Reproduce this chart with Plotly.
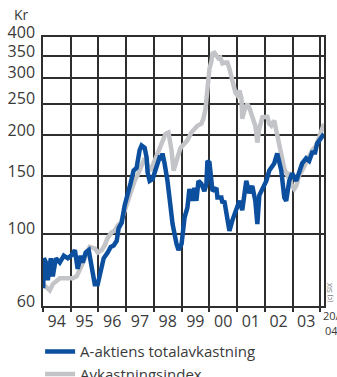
import plotly.graph_objects as go

# A-aktiens totalavkastning (kr, logarithmic scale)
aktie_dates = [
    "1994-01-03", "1994-01-14", "1994-02-09", "1994-03-05", "1994-04-14", "1994-05-10",
    "1994-06-19", "1994-08-10", "1994-10-02", "1994-11-24", "1995-01-16", "1995-02-25",
    "1995-04-03", "1995-05-12", "1995-06-08", "1995-07-17", "1995-08-26", "1995-10-05",
    "1995-11-14", "1995-12-23", "1996-02-01", "1996-03-10", "1996-05-02", "1996-06-11",
    "1996-07-20", "1996-08-29", "1996-09-24", "1996-11-03", "1996-12-12", "1997-01-21",
    "1997-03-01", "1997-04-09", "1997-05-18", "1997-06-27", "1997-07-23", "1997-09-01",
    "1997-09-27", "1997-10-10", "1997-11-06", "1997-12-15", "1998-02-06", "1998-02-19",
    "1998-03-16", "1998-04-11", "1998-04-24", "1998-05-20", "1998-06-16", "1998-06-29",
    "1998-07-25", "1998-09-04", "1998-10-26", "1998-11-21", "1999-01-01", "1999-02-09",
    "1999-03-18", "1999-04-14", "1999-05-23", "1999-06-19", "1999-07-15", "1999-08-11",
    "1999-09-19", "1999-10-28", "1999-11-24", "1999-12-07", "2000-01-03", "2000-01-29",
    "2000-02-12", "2000-04-04", "2000-04-17", "2000-06-08", "2000-06-22", "2000-07-17",
    "2000-08-13", "2000-09-22", "2000-11-01", "2000-12-23", "2001-02-01", "2001-03-10",
    "2001-04-06", "2001-05-02", "2001-06-11", "2001-07-20", "2001-08-29", "2001-09-25",
    "2001-10-21", "2001-11-30", "2002-01-21", "2002-03-01", "2002-05-05", "2002-06-14",
    "2002-08-06", "2002-09-15", "2002-10-10", "2002-11-19", "2002-12-28", "2003-02-20",
    "2003-03-29", "2003-05-08", "2003-06-30", "2003-08-08", "2003-09-17", "2003-10-26",
    "2003-11-22", "2004-01-14", "2004-02-20",
]
aktie_values = [
    68, 84, 81.5, 72, 84, 74,
    84, 81.5, 85.6, 84, 86, 89,
    78, 85.6, 81.5, 87.5, 89, 80,
    70, 70, 78, 84, 87.5, 91,
    92, 95, 104, 108, 122, 131,
    143, 156, 159, 180, 186, 183,
    171, 154, 145, 147, 159, 164,
    171, 170, 176, 165, 153, 145,
    129, 107, 93, 89, 93, 112,
    120, 137, 126, 138, 126, 145,
    142, 135, 142, 167, 165, 145,
    135, 138, 129, 129, 124, 126,
    115, 102, 110, 120, 126, 118,
    129, 145, 133, 140, 126, 107,
    131, 138, 145, 156, 164, 176,
    156, 129, 126, 145, 153, 145,
    156, 164, 170, 167, 177, 177,
    189, 197, 202,
]

# Avkastningsindex (kr, logarithmic scale)
index_dates = [
    "1994-01-01", "1994-01-27", "1994-03-05", "1994-03-31", "1994-05-10", "1994-07-01",
    "1994-08-10", "1994-10-15", "1994-11-24", "1995-01-29", "1995-03-20", "1995-04-29",
    "1995-06-08", "1995-07-30", "1995-09-08", "1995-11-14", "1995-12-23", "1996-02-14",
    "1996-03-23", "1996-05-02", "1996-06-24", "1996-08-02", "1996-09-11", "1996-10-21",
    "1996-12-12", "1997-01-21", "1997-03-01", "1997-04-22", "1997-05-31", "1997-07-23",
    "1997-09-01", "1997-10-10", "1997-11-19", "1998-01-10", "1998-03-16", "1998-04-24",
    "1998-06-03", "1998-07-12", "1998-08-21", "1998-09-17", "1998-10-13", "1998-11-08",
    "1998-12-18", "1999-02-09", "1999-03-18", "1999-05-10", "1999-06-19", "1999-07-28",
    "1999-09-19", "1999-10-15", "1999-11-11", "1999-12-07", "2000-01-03", "2000-01-29",
    "2000-02-12", "2000-03-09", "2000-04-04", "2000-04-30", "2000-05-26", "2000-06-22",
    "2000-07-31", "2000-08-26", "2000-09-22", "2000-10-18", "2000-11-14", "2000-12-10",
    "2001-01-06", "2001-02-01", "2001-02-27", "2001-03-10", "2001-04-06", "2001-05-15",
    "2001-06-11", "2001-07-20", "2001-08-29", "2001-09-25", "2001-10-21", "2001-11-30",
    "2002-01-08", "2002-02-03", "2002-03-01", "2002-03-28", "2002-05-05", "2002-06-14",
    "2002-08-06", "2002-09-15", "2002-10-23", "2002-11-19", "2002-12-15", "2003-01-24",
    "2003-02-20", "2003-03-29", "2003-05-08", "2003-06-30", "2003-08-08", "2003-09-17",
    "2003-11-08", "2003-12-18", "2004-01-27", "2004-02-20",
]
index_values = [
    70, 69, 68, 67, 70, 72,
    73, 73, 73, 73, 74, 77,
    81, 87, 91, 90, 87.5, 89,
    92, 97, 101, 102, 106, 108,
    118, 126, 135, 145, 151, 162,
    170, 162, 156, 167, 182, 193,
    202, 204, 180, 156, 162, 171,
    183, 189, 193, 204, 210, 214,
    217, 225, 240, 290, 320, 337,
    356, 358, 350, 344, 346, 332,
    334, 334, 320, 300, 282, 270,
    265, 274, 260, 225, 238, 250,
    243, 230, 214, 190, 210, 227,
    228, 228, 217, 214, 222, 200,
    171, 158, 151, 154, 142, 137,
    140, 151, 156, 165, 171, 180,
    186, 197, 210, 217,
]

year_labels = ["94", "95", "96", "97", "98", "99", "00", "01", "02", "03"]
label_dates = [f"{1994 + i}-07-01" for i in range(len(year_labels))]
year_starts = [f"{y}-01-01" for y in range(1994, 2005)]
y_ticks = [60, 100, 150, 200, 250, 300, 350, 400]

BLUE = "#0b4f9e"
GREY = "#c3c4c7"
INK = "#3a3a3a"
GRID = "#2e2e2e"
FONT = "Open Sans"

fig = go.Figure()
fig.add_trace(go.Scatter(
    x=index_dates, y=index_values, mode="lines", name="Avkastningsindex",
    line=dict(color=GREY, width=4.5), legendrank=2,
))
fig.add_trace(go.Scatter(
    x=aktie_dates, y=aktie_values, mode="lines", name="A-aktiens totalavkastning",
    line=dict(color=BLUE, width=4.5), legendrank=1,
))

fig.update_layout(
    width=337, height=377,
    margin=dict(l=43, r=13, t=37, b=71, autoexpand=False),
    paper_bgcolor="white", plot_bgcolor="white",
    font=dict(family=FONT, color=INK, size=15),
    showlegend=True,
    legend=dict(
        xref="container", yref="container",
        x=0.119, y=0.111, xanchor="left", yanchor="top",
        orientation="v", itemwidth=30, font=dict(size=15, color=INK),
        bgcolor="rgba(0,0,0,0)", tracegroupgap=0,
    ),
    xaxis=dict(
        type="date", range=["1994-01-01", "2004-02-20"],
        tickmode="array", tickvals=label_dates, ticktext=year_labels,
        ticks="", showgrid=False, tickfont=dict(size=16, color=INK),
        showline=True, linecolor=GRID, linewidth=1.5, mirror=True,
        minor=dict(tickmode="array", tickvals=year_starts, showgrid=True,
                   gridcolor=GRID, gridwidth=1.5, ticks="outside",
                   ticklen=4, tickcolor=GRID, tickwidth=1.5),
        zeroline=False, automargin=False,
    ),
    yaxis=dict(
        type="log", range=[1.7782, 2.6021],
        tickmode="array", tickvals=y_ticks, ticktext=[str(v) for v in y_ticks],
        ticks="", showgrid=True, gridcolor=GRID, gridwidth=1.5,
        tickfont=dict(size=16, color=INK), ticklabelshift=-5, ticklabelstandoff=3,
        showline=True, linecolor=GRID, linewidth=1.5, mirror=True,
        zeroline=False, automargin=False,
    ),
)

fig.add_annotation(text="Kr", xref="paper", yref="paper", x=-0.11, y=1.082,
                   xanchor="left", yanchor="middle", showarrow=False,
                   font=dict(size=14, color=INK))
fig.add_annotation(text="20/2", xref="paper", yref="paper", x=0.99, y=-0.035,
                   xanchor="left", yanchor="middle", showarrow=False,
                   font=dict(size=11, color=INK))
fig.add_annotation(text="04", xref="paper", yref="paper", x=0.995, y=-0.09,
                   xanchor="left", yanchor="middle", showarrow=False,
                   font=dict(size=11, color=INK))
fig.add_annotation(text="(c) SIX", xref="paper", yref="paper", x=1.02, y=0.05,
                   xanchor="center", yanchor="middle", showarrow=False, textangle=-90,
                   font=dict(size=7, color="#666666"))

fig.write_html("out.html")
